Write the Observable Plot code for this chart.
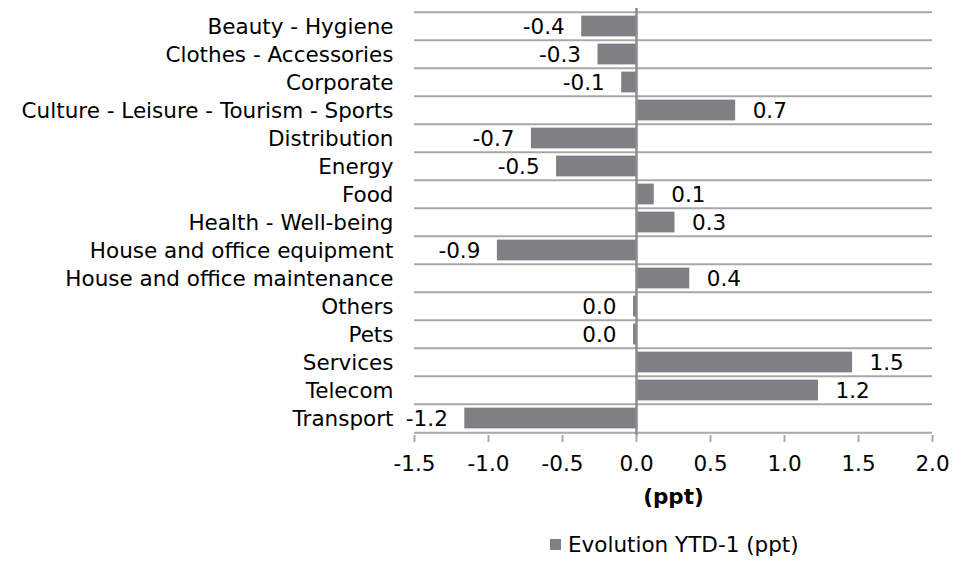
<!DOCTYPE html>
<html>
<head>
<meta charset="utf-8">
<script src="https://cdn.jsdelivr.net/npm/d3@7"></script>
<script src="https://cdn.jsdelivr.net/npm/@observablehq/plot@0.6"></script>
<style>
  html, body { margin: 0; padding: 0; background: #ffffff; }
  body { font-family: "DejaVu Sans", Verdana, sans-serif; position: relative; width: 954px; height: 562px; overflow: hidden; }
  #chart { position: absolute; left: 0; top: 0; }
  #legend { position: absolute; left: 550px; top: 532px; display: flex; align-items: center; font-size: 21.5px; color: #000; }
  #legend .sw { width: 11px; height: 11px; background: #808084; margin-right: 7px; }
</style>
</head>
<body>
<div id="chart"></div>
<div id="legend"><span class="sw"></span><span id="legend-text"></span></div>
<script>
const categories = [
  "Beauty - Hygiene",
  "Clothes - Accessories",
  "Corporate",
  "Culture - Leisure - Tourism - Sports",
  "Distribution",
  "Energy",
  "Food",
  "Health - Well-being",
  "House and office equipment",
  "House and office maintenance",
  "Others",
  "Pets",
  "Services",
  "Telecom",
  "Transport"
];
const values = [-0.37, -0.26, -0.10, 0.67, -0.71, -0.54, 0.12, 0.26, -0.94, 0.36, -0.02, -0.02, 1.46, 1.23, -1.16];
const xTicks = [-1.5, -1.0, -0.5, 0.0, 0.5, 1.0, 1.5, 2.0];
const axisTitle = "(ppt)";
const seriesName = "Evolution YTD-1 (ppt)";

const fmt = v => (Math.round(v * 10) / 10).toFixed(1);
const data = categories.map((c, i) => ({category: c, value: values[i], label: fmt(values[i])}));

const W = 954, H = 522, mT = 8, mB = 87, mL = 414, mR = 22;
const step = (H - mT - mB) / categories.length;
const barColor = "#808084";
const gridColor = "#a8a8a8";

const chart = Plot.plot({
  width: W,
  height: H,
  marginTop: mT,
  marginBottom: mB,
  marginLeft: mL,
  marginRight: mR,
  style: {fontFamily: "'DejaVu Sans', Verdana, sans-serif", fontSize: "21.5px", color: "#000", background: "#fff"},
  x: {domain: [-1.5, 2.0]},
  y: {domain: categories, padding: 0},
  marks: [
    Plot.ruleY(categories, {y: d => d, dy: -step / 2, stroke: gridColor, strokeWidth: 2}),
    Plot.ruleY([categories[categories.length - 1]], {y: d => d, dy: step / 2, stroke: gridColor, strokeWidth: 2}),
    Plot.barX(data, {y: "category", x: "value", fill: barColor, insetTop: 3.6, insetBottom: 3.6}),
    Plot.ruleX([0], {stroke: "#8c8c8c", strokeWidth: 2.5}),
    Plot.text(data.filter(d => +d.label <= 0), {y: "category", x: "value", text: "label", textAnchor: "end", dx: -17, dy: 1, fill: "#000"}),
    Plot.text(data.filter(d => +d.label > 0), {y: "category", x: "value", text: "label", textAnchor: "start", dx: 17, dy: 1, fill: "#000"}),
    Plot.axisX({ticks: xTicks, tickFormat: d => d.toFixed(1), tickSize: 7, tickPadding: 13, stroke: gridColor, strokeWidth: 2, fill: "#000", label: null}),
    Plot.axisY({tickSize: 0, tickPadding: 21, label: null, fill: "#000", dy: 1}),
    Plot.text([axisTitle], {frameAnchor: "bottom", dy: 68, text: d => d, fontWeight: "bold", fill: "#000"})
  ]
});
document.getElementById("chart").appendChild(chart);
document.getElementById("legend-text").textContent = seriesName;
</script>
</body>
</html>
